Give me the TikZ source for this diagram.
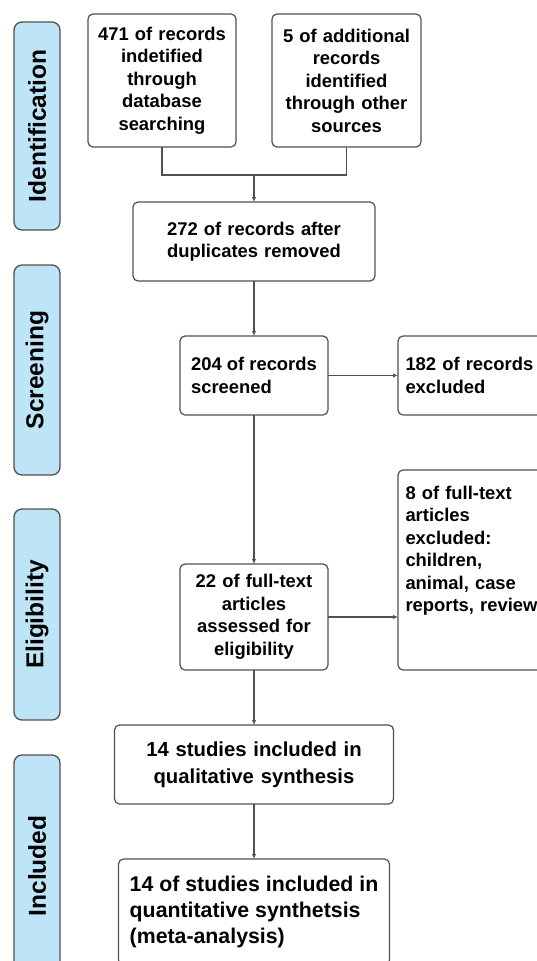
\documentclass[tikz,border=0pt]{standalone}
\usepackage{fontspec}
\setmainfont{Liberation Sans}
\usetikzlibrary{arrows.meta,positioning,calc}
\usepackage{xcolor}
\definecolor{phaseblue}{HTML}{BEE4F7}
\definecolor{edgegray}{HTML}{505050}

\begin{document}
\begin{tikzpicture}[x=1pt, y=1pt, >={Latex[length=5pt,width=4.5pt]},
    font=\bfseries\fontsize{18.4}{22.5}\selectfont,
    box/.style={draw=edgegray, line width=1.2pt, rounded corners=5pt, fill=white, inner sep=0pt, outer sep=0pt, align=center},
    phase/.style={draw=edgegray, line width=1.3pt, rounded corners=8pt, fill=phaseblue, rotate=90, minimum height=46pt, inner sep=0pt, outer sep=0pt, font=\bfseries\fontsize{24.5}{28}\selectfont},
    link/.style={draw=edgegray, line width=1.1pt}]
    \useasboundingbox (0,0) rectangle (537,-961);
    \fill[white] (0,0) rectangle (537,-961);
    \clip (0,0) rectangle (537,-961);

    % Phases
    \node[phase, minimum width=208pt] (ident) at (37,-126) {Identification};
    \node[phase, minimum width=210pt] (screen) at (37,-370) {Screening};
    \node[phase, minimum width=211pt] (elig) at (37,-614.5) {Eligibility};
    \node[phase, minimum width=222pt] (incl) at (37,-866) {Included};

    % Records
    \node[box, minimum width=148pt, minimum height=133pt, text width=140pt] (recdb) at (162,-80.5) {471 of records\\ indetified\\ through\\ database\\ searching};
    \node[box, minimum width=149pt, minimum height=133pt, text width=140pt, right=36pt of recdb] (recother) {5 of additional\\ records\\ identified\\ through other\\ sources};
    \coordinate (merge) at (254,-175);
    \node[box, minimum width=242pt, minimum height=79pt, text width=230pt] (dedup) at (254,-241.5) {272 of records after\\ duplicates removed};

    % Screening and eligibility
    \node[box, minimum width=148pt, minimum height=79pt, align=left, below=55pt of dedup] (screened) {204 of records\\ screened};
    \node[box, minimum width=165pt, minimum height=79pt, text width=150pt, align=left, right=70pt of screened] (excl) {182 of records\\ excluded};
    \node[box, minimum width=148pt, minimum height=106pt, text width=140pt, below=149pt of screened] (fulltext) {22 of full-text\\ articles\\ assessed for\\ eligibility};
    \node[box, minimum width=165pt, minimum height=200pt, text width=150pt, align=left, right=70pt of fulltext.south east, anchor=south west] (ftexcl) {\parbox[t][168pt][t]{150pt}{8 of full-text\\ articles\\ excluded:\\ children,\\ animal, case\\ reports, review}};

    % Included
    \node[box, minimum width=279pt, minimum height=79pt, text width=270pt, font=\bfseries\fontsize{20.3}{26.5}\selectfont, below=55pt of fulltext] (qual) {14 studies included in\\ qualitative synthesis};
    \node[box, minimum width=271pt, minimum height=106pt, align=left, font=\bfseries\fontsize{21.3}{26}\selectfont, below=55pt of qual] (quant) {14 of studies included in\\ quantitative synthetsis\\ (meta-analysis)};

    % Arrows
    \draw[link] (recdb.south) |- (merge) -| (recother.south);
    \draw[link, ->] (merge) -- (dedup);
    \draw[link, ->] (dedup) -- (screened);
    \draw[link, ->] (screened) -- (excl);
    \draw[link, ->] (screened) -- (fulltext);
    \draw[link, ->] (fulltext.east) -- (fulltext.east -| ftexcl.west);
    \draw[link, ->] (fulltext) -- (qual);
    \draw[link, ->] (qual) -- (quant);
\end{tikzpicture}
\end{document}
